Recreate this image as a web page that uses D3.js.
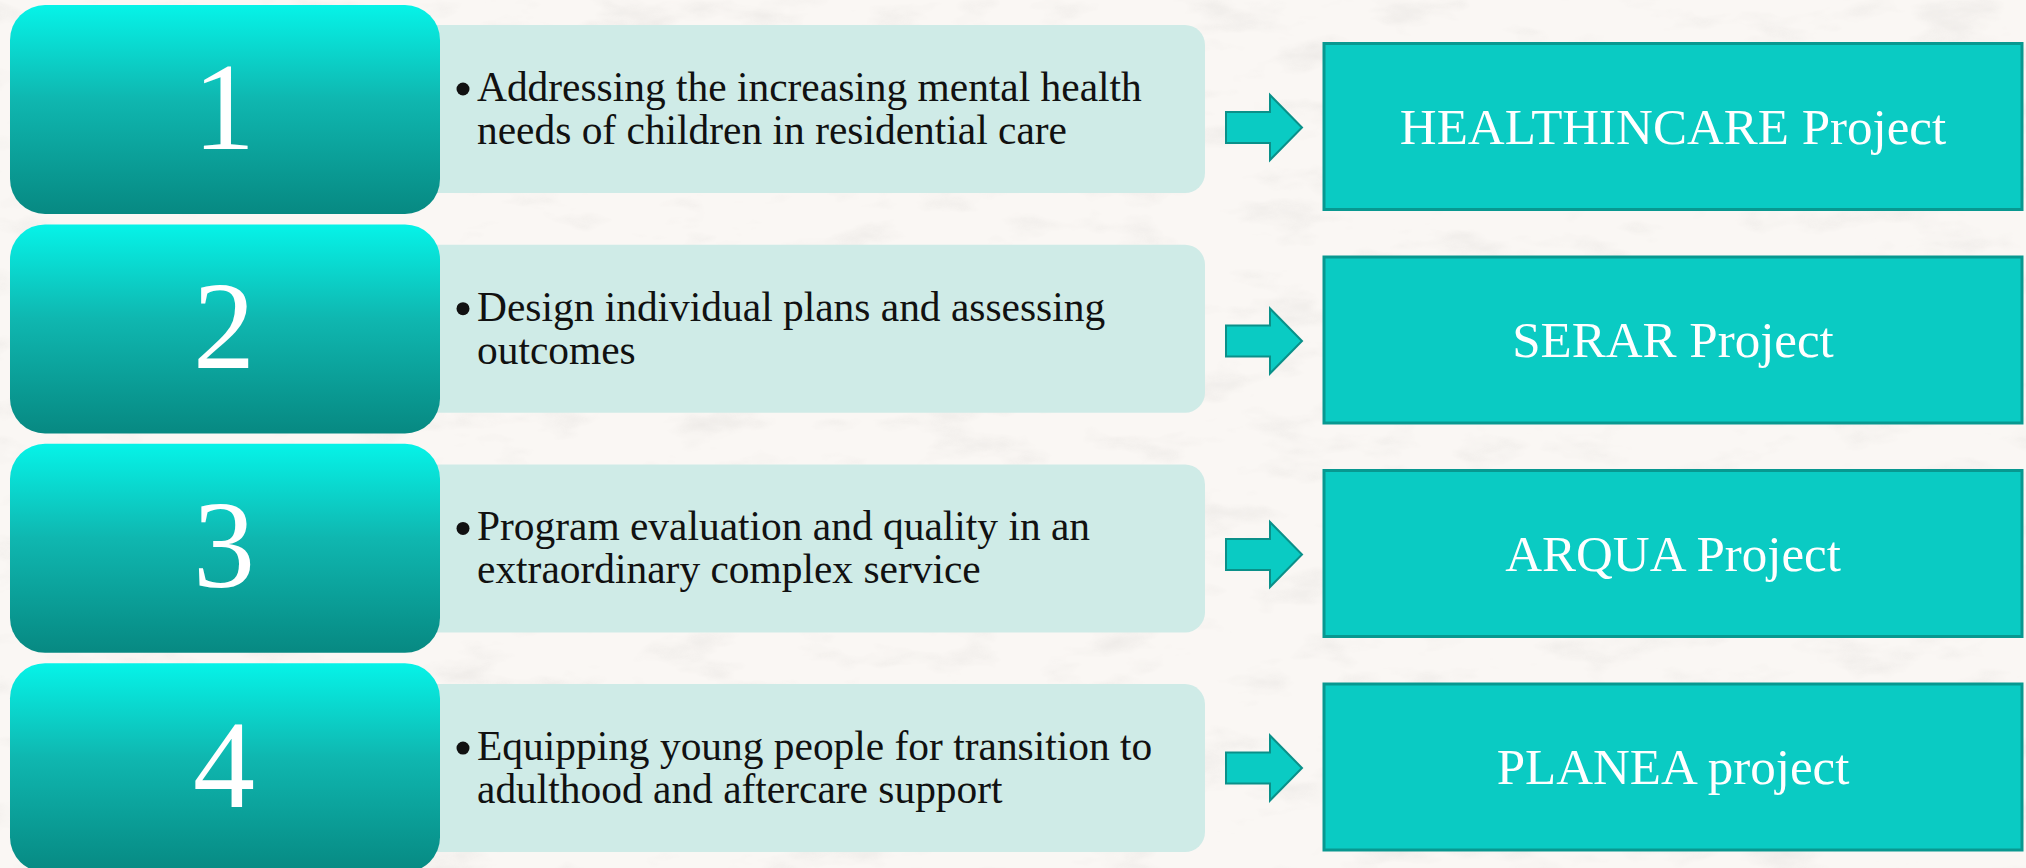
<!DOCTYPE html>
<html>
<head>
<meta charset="utf-8">
<script src="https://cdn.jsdelivr.net/npm/d3@7"></script>
<style>
html,body{margin:0;padding:0;background:#faf7f4;overflow:hidden;}
svg{display:block;}
</style>
</head>
<body>
<svg id="chart" width="2026" height="868"></svg>
<script>
// ---- data ----
const numbers = ["1", "2", "3", "4"];
const descLine1 = [
  "Addressing the increasing mental health",
  "Design individual plans and assessing",
  "Program evaluation and quality in an",
  "Equipping young people for transition to"
];
const descLine2 = [
  "needs of children in residential care",
  "outcomes",
  "extraordinary complex service",
  "adulthood and aftercare support"
];
const projects = ["HEALTHINCARE Project", "SERAR Project", "ARQUA Project", "PLANEA project"];

// ---- layout ----
const W = 2026, H = 868;
const svg = d3.select("#chart");
const idx = d3.range(numbers.length);

const yNum = d3.scaleLinear().domain([0, 1]).range([5, 224.4]);     // top of number boxes
const yLight = d3.scaleLinear().domain([0, 1]).range([25, 244.7]);  // top of light boxes
const yProj = d3.scaleLinear().domain([0, 1]).range([126.5, 340]);  // centre of project boxes

const numX = 10, numW = 430, numH = 209;
const lightX = 400, lightW = 805, lightH = 168;
const projX = 1324, projW = 698, projH = 166;

const defs = svg.append("defs");
const grad = defs.append("linearGradient").attr("id", "numGrad")
  .attr("x1", 0).attr("y1", 0).attr("x2", 0).attr("y2", 1);
grad.append("stop").attr("offset", "0%").attr("stop-color", "#06f3e8");
grad.append("stop").attr("offset", "45%").attr("stop-color", "#0fb7b0");
grad.append("stop").attr("offset", "100%").attr("stop-color", "#078982");

const filt = defs.append("filter").attr("id", "paper").attr("x", 0).attr("y", 0)
  .attr("width", "100%").attr("height", "100%");
filt.append("feTurbulence").attr("type", "fractalNoise").attr("baseFrequency", "0.012 0.03")
  .attr("numOctaves", 4).attr("seed", 7).attr("result", "n");
filt.append("feColorMatrix").attr("in", "n").attr("type", "matrix")
  .attr("values", "0 0 0 0 0.55  0 0 0 0 0.53  0 0 0 0 0.51  0 0 0 -1.6 0.75");

// background
svg.append("rect").attr("width", W).attr("height", H).attr("fill", "#faf7f4");
svg.append("rect").attr("width", W).attr("height", H).attr("filter", "url(#paper)").attr("opacity", 0.35);

// light description boxes
svg.selectAll("rect.light").data(idx).join("rect").attr("class", "light")
  .attr("x", lightX).attr("y", i => yLight(i))
  .attr("width", lightW).attr("height", lightH)
  .attr("rx", 20).attr("fill", "#cfebe7");

// number boxes
svg.selectAll("rect.num").data(idx).join("rect").attr("class", "num")
  .attr("x", numX).attr("y", i => yNum(i))
  .attr("width", numW).attr("height", numH)
  .attr("rx", 35).attr("fill", "url(#numGrad)");

svg.selectAll("text.num").data(numbers).join("text").attr("class", "num")
  .attr("x", numX + numW / 2 - 1)
  .attr("y", (d, i) => yNum(i) + numH / 2 + 39)
  .attr("text-anchor", "middle")
  .attr("font-family", "'Liberation Serif', serif")
  .attr("font-size", 124).attr("fill", "#ffffff")
  .text(d => d);

// bullets + description text
const descG = svg.selectAll("g.desc").data(idx).join("g").attr("class", "desc");
descG.append("circle")
  .attr("cx", 463).attr("cy", i => yLight(i) + lightH / 2 - 20)
  .attr("r", 6.5).attr("fill", "#111");
const t1 = descG.append("text").attr("class", "l1")
  .attr("font-family", "'Liberation Serif', serif").attr("font-size", 42).attr("fill", "#111")
  .text(i => descLine1[i]);
const t2 = descG.append("text").attr("class", "l2")
  .attr("font-family", "'Liberation Serif', serif").attr("font-size", 42).attr("fill", "#111")
  .text(i => descLine2[i]);
// match wider Palatino-like metrics horizontally
const w0 = t1.nodes()[0].getComputedTextLength();
const k = w0 > 0 ? 665 / w0 : 1;
t1.attr("transform", i => `translate(477,${yLight(i) + lightH / 2 - 8}) scale(${k},1)`);
t2.attr("transform", i => `translate(477,${yLight(i) + lightH / 2 + 35}) scale(${k},1)`);

// arrows
const arrowPath = cy => {
  const x0 = 1226, xm = 1270, x1 = 1302, sh = 15.5, hh = 32.5;
  return `M${x0},${cy - sh}L${xm},${cy - sh}L${xm},${cy - hh}L${x1},${cy}L${xm},${cy + hh}L${xm},${cy + sh}L${x0},${cy + sh}Z`;
};
svg.selectAll("path.arrow").data(idx).join("path").attr("class", "arrow")
  .attr("d", i => arrowPath(yProj(i) + 1))
  .attr("fill", "#0acbc3").attr("stroke", "#0a9089").attr("stroke-width", 2);

// project boxes
svg.selectAll("rect.proj").data(idx).join("rect").attr("class", "proj")
  .attr("x", projX).attr("y", i => yProj(i) - projH / 2)
  .attr("width", projW).attr("height", projH)
  .attr("fill", "#0acbc3").attr("stroke", "#089890").attr("stroke-width", 3);

svg.selectAll("text.proj").data(projects).join("text").attr("class", "proj")
  .attr("x", projX + projW / 2)
  .attr("y", (d, i) => yProj(i) + 17)
  .attr("text-anchor", "middle")
  .attr("font-family", "'Liberation Serif', serif")
  .attr("font-size", 51).attr("fill", "#ffffff")
  .text(d => d);
</script>
</body>
</html>
